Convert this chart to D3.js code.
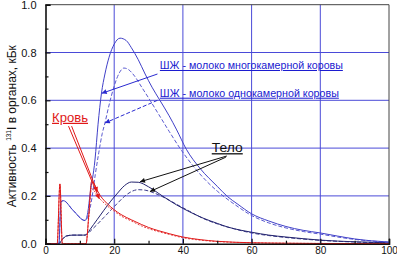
<!DOCTYPE html>
<html><head><meta charset="utf-8">
<script src="https://cdn.jsdelivr.net/npm/d3@7"></script>
<style>html,body{margin:0;padding:0;background:#fff;}svg{display:block;font-family:"Liberation Sans",Arial,sans-serif;}</style>
</head><body>
<svg id="c" width="397" height="257"></svg>
<script>
// ---- data (days, kBq) ----
const xTicks = [0, 20, 40, 60, 80, 100];
const yTicks = [0.0, 0.2, 0.4, 0.6, 0.8, 1.0];
const yTickLabels = ["0.0", "0.2", "0.4", "0.6", "0.8", "1.0"];

const thyroidMultiX = [0,3.9,4.5,5.2,8,11.5,12.3,13,14.4,15.3,16.3,17.3,18.5,20,21.7,23.5,25,27,29,31,33.3,36,38.2,41,45,50,53,56,60,65,70,75,80,85,90,95,100];
const thyroidMultiY = [0,0,0.175,0.18,0.14,0.097,0.13,0.21,0.35,0.5,0.63,0.71,0.78,0.835,0.86,0.85,0.82,0.77,0.71,0.655,0.6,0.535,0.476,0.395,0.315,0.24,0.197,0.165,0.125,0.095,0.072,0.056,0.045,0.032,0.02,0.012,0.007];

const thyroidSingleX = [0,3.9,4.5,5.2,8,11.5,12.5,13.5,14.5,15.5,16.5,17.3,18.5,20,21.5,22.8,24,26,28,30,33,36,39.6,43,47,50,55,60,65,70,75,80,85,90,95,100];
const thyroidSingleY = [0,0,0.175,0.18,0.14,0.097,0.12,0.19,0.29,0.38,0.46,0.505,0.58,0.66,0.715,0.735,0.73,0.7,0.655,0.61,0.54,0.47,0.39,0.325,0.26,0.22,0.165,0.118,0.087,0.066,0.051,0.04,0.028,0.018,0.011,0.006];

const bodyMultiX = [0,3.8,5,6,8,11.5,12.3,13,15,17,19,21,23,25,27,30,34,38.2,42,45.9,50,53,57,60,65,70,75,80,90,100];
const bodyMultiY = [0,0,0.02,0.032,0.036,0.036,0.045,0.06,0.1,0.14,0.178,0.212,0.243,0.258,0.257,0.238,0.2,0.162,0.133,0.107,0.085,0.07,0.056,0.048,0.036,0.028,0.021,0.015,0.008,0.004];

const bodySingleX = [0,3.8,5,6,8,11.5,12.3,13,15,17,19,21,23,25,27,29,32,35,38,42,46,50,55,60,65,70,80,90,100];
const bodySingleY = [0,0,0.02,0.032,0.036,0.036,0.042,0.052,0.08,0.11,0.14,0.17,0.198,0.218,0.226,0.224,0.21,0.19,0.166,0.135,0.105,0.083,0.062,0.045,0.034,0.026,0.014,0.007,0.003];

const bloodMultiX = [0,3.4,4.2,4.9,11.8,12.6,13.4,14.2,15,16,17,18,20,22,25,28,30,33,36,40,45,50,60,70,80,100];
const bloodMultiY = [0,0,0.25,0,0,0.12,0.26,0.25,0.225,0.2,0.182,0.167,0.142,0.122,0.1,0.08,0.068,0.054,0.042,0.028,0.017,0.01,0.004,0.002,0.001,0];

const bloodSingleX = [0,3.4,4.2,4.9,11.8,12.6,13.4,14.2,15,16,18,20,22,25,28,30,33,36,40,45,50,60,70,80,100];
const bloodSingleY = [0,0,0.25,0,0,0.11,0.23,0.22,0.2,0.185,0.158,0.136,0.116,0.095,0.074,0.063,0.05,0.039,0.025,0.015,0.009,0.004,0.002,0.001,0];

const labelMulti = "ШЖ - молоко многокамерной коровы";
const labelSingle = "ШЖ - молоко однокамерной коровы";
const labelBody = "Тело";
const labelBlood = "Кровь";

// ---- layout ----
const svg = d3.select("#c");
const x = d3.scaleLinear().domain([0, 100]).range([45.5, 389]);
const y = d3.scaleLinear().domain([0, 1]).range([243.7, 4.7]);

const gridColor = "#4a4ad8";
svg.append("g").selectAll("line").data([20,40,60,80]).join("line")
  .attr("x1", d => x(d)).attr("x2", d => x(d)).attr("y1", y(0)).attr("y2", y(1))
  .attr("stroke", gridColor).attr("stroke-width", 1);
svg.append("g").selectAll("line").data([0.2,0.4,0.6,0.8]).join("line")
  .attr("y1", d => y(d)).attr("y2", d => y(d)).attr("x1", x(0)).attr("x2", x(100))
  .attr("stroke", gridColor).attr("stroke-width", 1);

svg.append("line").attr("x1", x(0)).attr("x2", x(100)).attr("y1", y(1)).attr("y2", y(1)).attr("stroke", "#444").attr("stroke-width", 1);
svg.append("line").attr("x1", x(100)).attr("x2", x(100)).attr("y1", y(0)).attr("y2", y(1)).attr("stroke", "#444").attr("stroke-width", 1);

const line = d3.line().x(d => x(d[0])).y(d => y(d[1])).curve(d3.curveMonotoneX);
function drawCurve(xs, ys, color, dash, w) {
  svg.append("path").datum(xs.map((v, i) => [v, ys[i]]))
    .attr("d", line).attr("fill", "none").attr("stroke", color)
    .attr("stroke-width", w || 1).attr("stroke-dasharray", dash || null);
}
drawCurve(bodySingleX, bodySingleY, "#3a3a8a", "4,2");
drawCurve(bodyMultiX, bodyMultiY, "#23236e");
drawCurve(thyroidSingleX, thyroidSingleY, "#5a5ad0", "4,2");
drawCurve(thyroidMultiX, thyroidMultiY, "#4040c8");
drawCurve(bloodSingleX, bloodSingleY, "#e84040", "2,1.5");
drawCurve(bloodMultiX, bloodMultiY, "#e01818");

// axes
const yAxis = d3.axisLeft(y).tickValues(yTicks).tickFormat((d, i) => yTickLabels[i]).tickSize(-5).tickPadding(9);
const gy = svg.append("g").attr("transform", `translate(${x(0)},0)`).call(yAxis);
const yMinor = d3.axisLeft(y).tickValues([0.1,0.3,0.5,0.7,0.9]).tickFormat("").tickSize(-3);
svg.append("g").attr("transform", `translate(${x(0)},0)`).call(yMinor).select(".domain").remove();

const xAxis = d3.axisBottom(x).tickValues(xTicks).tickSize(-5).tickPadding(3);
const gx = svg.append("g").attr("transform", `translate(0,${y(0)})`).call(xAxis);
const xMinor = d3.axisBottom(x).tickValues([10,30,50,70,90]).tickFormat("").tickSize(-3);
svg.append("g").attr("transform", `translate(0,${y(0)})`).call(xMinor).select(".domain").remove();

svg.selectAll(".tick line").attr("stroke", "#111").attr("stroke-width", 1.2);
gy.select(".domain").attr("stroke", "#111").attr("stroke-width", 1.6);
gx.select(".domain").attr("stroke", "#111").attr("stroke-width", 1.6);
gy.selectAll("text").attr("font-size", 11).attr("font-family", '"Liberation Sans",Arial,sans-serif').attr("fill", "#111");
gx.selectAll("text").attr("font-size", 10).attr("font-family", '"Liberation Sans",Arial,sans-serif').attr("fill", "#111");

// y title
const yt = svg.append("text").attr("transform", `translate(16,${(y(0)+y(1))/2 + 2}) rotate(-90)`)
  .attr("text-anchor", "middle").attr("font-size", 12).attr("fill", "#111");
yt.append("tspan").text("Активность ");
yt.append("tspan").attr("font-size", 6.5).attr("dy", -5).text("131");
yt.append("tspan").attr("dy", 5).text("I в органах, кБк");

// arrowheads
const defs = svg.append("defs");
function marker(id, color) {
  defs.append("marker").attr("id", id).attr("viewBox", "0 0 10 10").attr("refX", 10).attr("refY", 5)
    .attr("markerWidth", 7).attr("markerHeight", 5).attr("markerUnits", "userSpaceOnUse").attr("orient", "auto")
    .append("path").attr("d", "M0,0 L10,5 L0,10 z").attr("fill", color);
}
marker("mb", "#2a2ad0"); marker("mk", "#111"); marker("mr", "#e01818");

function arrow(x1, y1, x2, y2, color, mid, dash) {
  svg.append("line").attr("x1", x(x1)).attr("y1", y(y1)).attr("x2", x(x2)).attr("y2", y(y2))
    .attr("stroke", color).attr("stroke-width", 1).attr("stroke-dasharray", dash || null)
    .attr("marker-end", `url(#${mid})`);
}
function label(txt, xs, ys, color, size, len) {
  const t = svg.append("text").attr("x", x(xs)).attr("y", y(ys)).attr("fill", color)
    .attr("font-size", size).attr("text-decoration", "underline").text(txt);
  if (len) t.attr("textLength", len).attr("lengthAdjust", "spacingAndGlyphs");
  return t;
}

label(labelMulti, 33.3, 0.731, "#1a1ad0", 10, 183);
arrow(32.6, 0.71, 16.36, 0.629, "#2a2ad0", "mb");
label(labelSingle, 33.3, 0.615, "#1a1ad0", 10, 179);
arrow(32.6, 0.6, 17.3, 0.505, "#2a2ad0", "mb", "4,2");

label(labelBody, 48.4, 0.383, "#111", 13, 31);
arrow(52.8, 0.367, 27.5, 0.259, "#111", "mk");
arrow(52.5, 0.362, 30.4, 0.218, "#111", "mk");

label(labelBlood, 1.9, 0.510, "#e01818", 12, 36);
arrow(7.6, 0.492, 15.1, 0.216, "#e01818", "mr");
arrow(6.7, 0.492, 15.7, 0.187, "#e01818", "mr");
</script>
</body></html>
